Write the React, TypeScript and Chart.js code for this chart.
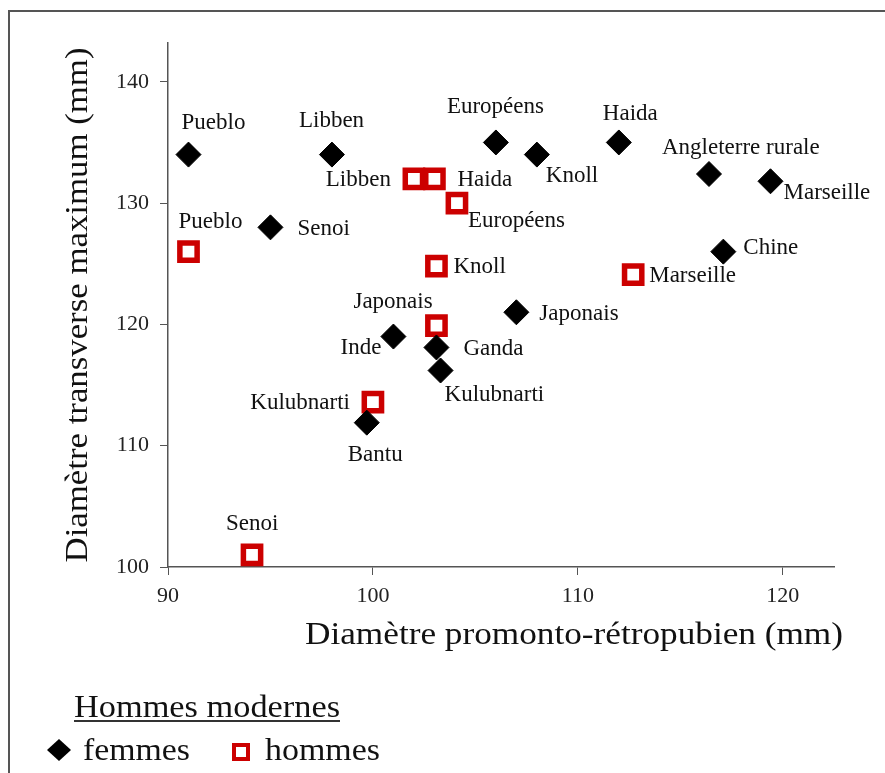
import React, { useEffect, useRef } from "react";
import { Chart, registerables } from "chart.js";
Chart.register(...registerables);

// ---- Data ----
const femmesNames = ["Pueblo", "Libben", "Senoi", "Européens", "Knoll", "Haida", "Angleterre rurale", "Marseille", "Chine", "Japonais", "Inde", "Ganda", "Kulubnarti", "Bantu"];
const femmesX = [91, 98, 95, 106, 108, 112, 116.4, 119.4, 117.1, 107, 101, 103.1, 103.3, 99.7];
const femmesY = [134, 134, 128, 135, 134, 135, 132.4, 131.8, 126, 121, 119, 118.1, 116.2, 111.9];

const hommesNames = ["Pueblo", "Libben", "Haida", "Européens", "Knoll", "Marseille", "Japonais", "Kulubnarti", "Senoi"];
const hommesX = [91, 102, 103, 104.1, 103.1, 112.7, 103.1, 100, 94.1];
const hommesY = [126, 132, 132, 130, 124.8, 124.1, 119.9, 113.6, 101];

const xTicks = [90, 100, 110, 120];
const yTicks = [100, 110, 120, 130, 140];

const xTitle = "Diamètre promonto-rétropubien (mm)";
const yTitle = "Diamètre transverse maximum (mm)";
const legendTitle = "Hommes modernes";
const legendFemmes = "femmes";
const legendHommes = "hommes";

// ---- Label placement (pixel offsets from the point: dx, dy, align) ----
const femmesLabelPos: [number, number, CanvasTextAlign][] = [
  [-7, -26, "left"],
  [-33, -28, "left"],
  [27, 8, "left"],
  [-49, -29, "left"],
  [9, 27, "left"],
  [-16, -22, "left"],
  [-47, -20, "left"],
  [13, 18, "left"],
  [20, 2, "left"],
  [23, 8, "left"],
  [-12, 17, "right"],
  [27, 8, "left"],
  [4, 30, "left"],
  [-19, 38, "left"],
];
const hommesLabelPos: [number, number, CanvasTextAlign][] = [
  [-10, -24, "left"],
  [-23, 7, "right"],
  [23, 7, "left"],
  [11, 24, "left"],
  [17, 7, "left"],
  [16, 7, "left"],
  [-83, -18, "left"],
  [-23, 7, "right"],
  [-26, -25, "left"],
];

const SERIF = "'Liberation Serif', 'Times New Roman', serif";
const RED = "#CC0000";
const W = 885;
const H = 773;

function fitText(ctx: CanvasRenderingContext2D, text: string, width: number) {
  const w = ctx.measureText(text).width;
  ctx.scale(width / w, 1);
  return w;
}

const decorPlugin = {
  id: "decor",
  beforeDraw(chart: any) {
    const ctx: CanvasRenderingContext2D = chart.ctx;
    ctx.save();
    ctx.fillStyle = "#fff";
    ctx.fillRect(0, 0, W, H);
    ctx.strokeStyle = "#555";
    ctx.lineWidth = 2;
    ctx.beginPath();
    ctx.moveTo(9, H);
    ctx.lineTo(9, 11);
    ctx.lineTo(W, 11);
    ctx.stroke();
    ctx.restore();
  },
  afterDatasetsDraw(chart: any) {
    const ctx: CanvasRenderingContext2D = chart.ctx;
    ctx.save();
    ctx.fillStyle = "#111";
    ctx.font = `23px ${SERIF}`;
    ctx.textBaseline = "alphabetic";
    const sets = [
      { names: femmesNames, pos: femmesLabelPos, idx: 0 },
      { names: hommesNames, pos: hommesLabelPos, idx: 1 },
    ];
    sets.forEach((s) => {
      const meta = chart.getDatasetMeta(s.idx);
      meta.data.forEach((el: any, j: number) => {
        const [dx, dy, al] = s.pos[j];
        ctx.textAlign = al;
        ctx.fillText(s.names[j], el.x + dx, el.y + dy);
      });
    });
    ctx.restore();
  },
  afterDraw(chart: any) {
    const ctx: CanvasRenderingContext2D = chart.ctx;
    const area = chart.chartArea;
    ctx.save();
    ctx.fillStyle = "#111";
    ctx.textBaseline = "alphabetic";
    ctx.textAlign = "left";
    // x title
    ctx.save();
    ctx.font = `31px ${SERIF}`;
    ctx.translate(305, 644);
    fitText(ctx, xTitle, 538);
    ctx.fillText(xTitle, 0, 0);
    ctx.restore();
    // y title
    ctx.save();
    ctx.font = `31px ${SERIF}`;
    ctx.translate(87, (area.top + area.bottom) / 2);
    ctx.rotate(-Math.PI / 2);
    const yw = fitText(ctx, yTitle, 515);
    ctx.fillText(yTitle, -yw / 2, 0);
    ctx.restore();
    // legend title
    ctx.save();
    ctx.font = `31px ${SERIF}`;
    ctx.translate(74, 717);
    fitText(ctx, legendTitle, 266);
    ctx.fillText(legendTitle, 0, 0);
    ctx.restore();
    ctx.strokeStyle = "#333";
    ctx.lineWidth = 2;
    ctx.beginPath();
    ctx.moveTo(74, 721);
    ctx.lineTo(340, 721);
    ctx.stroke();
    // legend items
    ctx.fillStyle = "#000";
    ctx.beginPath();
    ctx.moveTo(47, 750);
    ctx.lineTo(59, 739);
    ctx.lineTo(71, 750);
    ctx.lineTo(59, 761);
    ctx.closePath();
    ctx.fill();
    ctx.fillStyle = "#111";
    ctx.save();
    ctx.font = `31px ${SERIF}`;
    ctx.translate(83, 760);
    fitText(ctx, legendFemmes, 107);
    ctx.fillText(legendFemmes, 0, 0);
    ctx.restore();
    ctx.strokeStyle = RED;
    ctx.lineWidth = 4;
    ctx.strokeRect(234, 745, 14, 14);
    ctx.save();
    ctx.font = `31px ${SERIF}`;
    ctx.translate(265, 760);
    fitText(ctx, legendHommes, 115);
    ctx.fillText(legendHommes, 0, 0);
    ctx.restore();
    ctx.restore();
  },
};

export default function App() {
  const ref = useRef<HTMLCanvasElement | null>(null);
  useEffect(() => {
    if (!ref.current) return;
    const femmes = femmesX.map((x, i) => ({ x, y: femmesY[i] }));
    const hommes = hommesX.map((x, i) => ({ x, y: hommesY[i] }));
    const chart = new Chart(ref.current, {
      type: "scatter",
      data: {
        datasets: [
          {
            label: "femmes",
            data: femmes,
            pointStyle: "rectRot",
            pointRadius: 12.5,
            pointBackgroundColor: "#000",
            pointBorderColor: "#000",
            pointBorderWidth: 1,
            clip: false as any,
          },
          {
            label: "hommes",
            data: hommes,
            pointStyle: "rect",
            pointRadius: 12.2,
            pointBackgroundColor: "#fff",
            pointBorderColor: RED,
            pointBorderWidth: 5.5,
            clip: false as any,
          },
        ],
      },
      options: {
        animation: false,
        responsive: false,
        devicePixelRatio: 1,
        layout: { padding: { top: 43, right: 51, bottom: 0, left: 0 } },
        plugins: { legend: { display: false }, tooltip: { enabled: false } },
        scales: {
          x: {
            type: "linear",
            min: 90,
            max: 122.5,
            afterFit: (s: any) => {
              s.height = H - 567;
            },
            afterBuildTicks: (s: any) => {
              s.ticks = xTicks.map((v) => ({ value: v }));
            },
            grid: { drawOnChartArea: false, drawTicks: true, tickLength: 8, color: "#555" },
            border: { color: "#555", width: 1.5 },
            ticks: { font: { family: SERIF, size: 22 }, color: "#222", padding: 8, maxRotation: 0 },
          },
          y: {
            type: "linear",
            min: 100,
            max: 143.2,
            afterFit: (s: any) => {
              s.width = 168;
            },
            afterBuildTicks: (s: any) => {
              s.ticks = yTicks.map((v) => ({ value: v }));
            },
            grid: { drawOnChartArea: false, drawTicks: true, tickLength: 8, color: "#555" },
            border: { color: "#555", width: 1.5 },
            ticks: { font: { family: SERIF, size: 22 }, color: "#222", padding: 11 },
          },
        },
      },
      plugins: [decorPlugin],
    });
    return () => chart.destroy();
  }, []);
  return (
    <div style={{ position: "absolute", left: 0, top: 0, width: W, height: H, background: "#fff" }}>
      <canvas ref={ref} width={W} height={H} style={{ display: "block", width: W, height: H }} />
    </div>
  );
}
